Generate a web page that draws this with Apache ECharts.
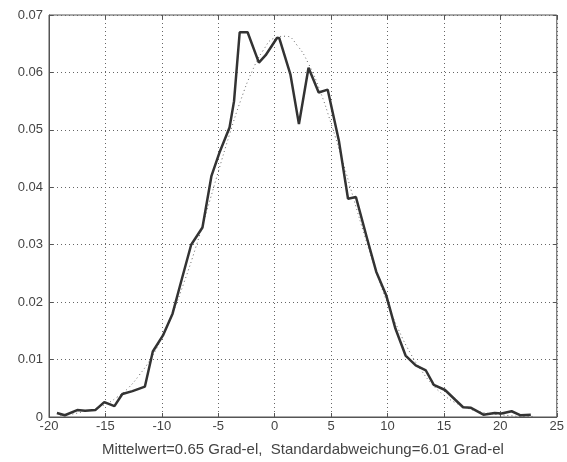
<!DOCTYPE html>
<html>
<head>
<meta charset="utf-8">
<script src="https://cdn.jsdelivr.net/npm/echarts@6/dist/echarts.min.js"></script>
<style>
  html, body { margin: 0; padding: 0; background: #fff; }
  #chart { width: 567px; height: 462px; }
</style>
</head>
<body>
<div id="chart"></div>
<script>
// measured distribution (thick line)
const measX = [-19.3, -18.6, -17.5, -16.8, -15.9, -15.1, -14.2, -13.5, -12.6, -11.5,
  -10.8, -9.9, -9.05, -8.3, -7.4, -6.4, -5.6, -4.9, -4.0, -3.6, -3.1, -2.4, -1.4, -0.8,
  0.2, 0.4, 1.4, 2.15, 3.0, 3.9, 4.7, 5.7, 6.5, 7.2, 8.2, 9.0, 9.9, 10.7, 11.6, 12.5,
  13.4, 14.1, 15.1, 16.0, 16.7, 17.4, 18.5, 19.5, 20.1, 21.0, 21.8, 22.7]
const measY = [0.0007, 0.0003, 0.0012, 0.0011, 0.0012, 0.0026, 0.0019, 0.0040, 0.0045, 0.0053,
  0.0114, 0.0142, 0.0180, 0.0235, 0.0300, 0.0330, 0.0420, 0.0460, 0.0504, 0.0550, 0.0670, 0.0670, 0.0617, 0.0630,
  0.0660, 0.0660, 0.0596, 0.0510, 0.0608, 0.0565, 0.0570, 0.0480, 0.0380, 0.0383, 0.0310, 0.0253, 0.0211, 0.0154, 0.0107, 0.0090,
  0.0081, 0.0056, 0.0047, 0.0030, 0.0017, 0.0016, 0.0004, 0.0007, 0.0006, 0.0010, 0.0003, 0.0004]

// fitted normal curve (dotted line)
const fitX = [-19, -18, -17, -16, -15, -14, -13, -12, -11, -10, -9, -8, -7, -6, -5, -4, -3, -2, -1,
  0, 1, 2, 3, 4, 5, 6, 7, 8, 9, 10, 11, 12, 13, 14, 15, 16, 17, 18, 19, 20, 21, 22, 23]
const fitY = [0.0003, 0.0005, 0.0009, 0.0014, 0.0022, 0.0034, 0.0050, 0.0073, 0.0101, 0.0138, 0.0183, 0.0236, 0.0295, 0.0360, 0.0427, 0.0492, 0.0552, 0.0602, 0.0639,
  0.0660, 0.0663, 0.0647, 0.0615, 0.0569, 0.0511, 0.0447, 0.0380, 0.0314, 0.0253, 0.0198, 0.0151, 0.0112, 0.0081, 0.0056, 0.0038, 0.0025, 0.0016, 0.0010, 0.0006, 0.0004, 0.0002, 0.0001, 0.0001]

const xLabel = 'Mittelwert=0.65 Grad-el,  Standardabweichung=6.01 Grad-el'

const pairs = (xs, ys) => xs.map((x, i) => [x, ys[i]])

const font = '"Liberation Sans", Arial, sans-serif'
const ink = '#444'
const tick = { show: true, inside: true, length: 4, lineStyle: { color: '#555' } }
const dotted = { show: true, lineStyle: { color: '#666', type: [1, 3], width: 1 } }

const chart = echarts.init(document.getElementById('chart'))
chart.setOption({
  animation: false,
  backgroundColor: '#fff',
  grid: {
    left: 49, top: 15, right: 8, bottom: 43,
    show: true, borderColor: '#555', borderWidth: 1, backgroundColor: '#fff'
  },
  xAxis: [
    {
      type: 'value', min: -20, max: 25, interval: 5,
      name: xLabel, nameLocation: 'middle', nameGap: 25,
      nameTextStyle: { color: ink, fontFamily: font, fontSize: 15 },
      axisLine: { show: true, onZero: false, lineStyle: { color: '#555' } },
      axisTick: tick,
      axisLabel: { color: ink, fontFamily: font, fontSize: 13, margin: 3 },
      splitLine: dotted
    },
    {
      type: 'value', min: -20, max: 25, interval: 5, position: 'top',
      axisLine: { show: false, onZero: false },
      axisTick: tick,
      axisLabel: { show: false },
      splitLine: { show: false }
    }
  ],
  yAxis: [
    {
      type: 'value', min: 0, max: 0.07, interval: 0.01,
      axisLine: { show: true, onZero: false, lineStyle: { color: '#555' } },
      axisTick: tick,
      axisLabel: {
        color: ink, fontFamily: font, fontSize: 13, margin: 6,
        formatter: (v) => v === 0 ? '0' : v.toFixed(2)
      },
      splitLine: dotted
    },
    {
      type: 'value', min: 0, max: 0.07, interval: 0.01, position: 'right',
      axisLine: { show: false, onZero: false },
      axisTick: tick,
      axisLabel: { show: false },
      splitLine: { show: false }
    }
  ],
  series: [
    {
      name: 'fit',
      type: 'line',
      data: pairs(fitX, fitY),
      smooth: true,
      showSymbol: false,
      lineStyle: { color: '#666', width: 1, type: [1, 3] },
      z: 2
    },
    {
      name: 'measured',
      type: 'line',
      data: pairs(measX, measY),
      showSymbol: false,
      lineStyle: { color: '#333', width: 2.5 },
      z: 3
    }
  ]
})
</script>
</body>
</html>
